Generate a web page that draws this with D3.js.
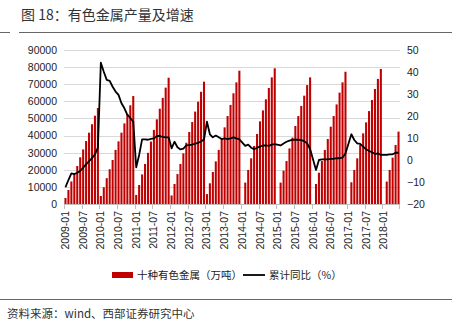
<!DOCTYPE html>
<html><head><meta charset="utf-8">
<script src="https://cdn.jsdelivr.net/npm/d3@7"></script>
<style>
html,body{margin:0;padding:0;background:#fff;}
svg{display:block;}
</style></head>
<body>
<svg id="chart" width="452" height="325"></svg>
<script>
// ---- data ----
const years = [2009,2010,2011,2012,2013,2014,2015,2016,2017,2018];
const monthsPerYear = ["01","02","03","04","05","06","07","08","09","10","11","12"];
const lastMonth = "2018-06";
const production = [
  // 2009
  3500, 8200, 13200, 17200, 22200, 27300, 31900, 36800, 41700, 46600, 51600, 56100,
  // 2010
  4700, 9800, 15100, 20300, 25700, 31600, 36600, 41700, 47100, 52600, 57700, 63100,
  // 2011
  5300, 11100, 17300, 23400, 29900, 36500, 43300, 49500, 55700, 62000, 68000, 73800,
  // 2012
  5000, 11700, 17500, 23400, 29600, 35800, 42100, 47900, 54000, 59800, 65600, 71500,
  // 2013
  5800, 12100, 18700, 24900, 31600, 38000, 44800, 51400, 57900, 64700, 71100, 77900,
  // 2014
  null, 12500, 19900, 26700, 33900, 40900, 48300, 54700, 61200, 67800, 74000, 79300,
  // 2015
  null, 12500, 19500, 25100, 32500, 38800, 45600, 51400, 57300, 63300, 69500, 74000,
  // 2016
  null, 11700, 18300, 25100, 31600, 38000, 45200, 51400, 58200, 65100, 71100, 77300,
  // 2017
  null, 12700, 19900, 26700, 34500, 41300, 47700, 54300, 60800, 67200, 73100, 78900,
  // 2018
  null, 13100, 19900, 27100, 34500, 42300
];
const growth = [
  // 2009
  -12.4, -9.1, -6.1, -6.4, -5.8, -5.0, -3.5, -2.0, -0.5, 0.8, 2.6, 5.6,
  // 2010
  44.2, 40.1, 36.4, 36.0, 33.3, 31.1, 29.6, 25.8, 23.5, 20.5, 19.1, 17.4,
  // 2011
  -3.3, 2.3, 9.4, 9.4, 9.2, 9.6, 9.8, 10.9, 10.9, 10.5, 10.3, 10.3,
  // 2012
  5.3, 8.3, 5.8, 4.8, 5.2, 6.6, 6.8, 7.0, 7.4, 7.8, 8.4, 9.3,
  // 2013
  17.4, 11.7, 10.3, 11.1, 10.3, 9.5, 9.8, 9.5, 9.8, 10.3, 9.8, 9.4,
  // 2014
  null, 6.4, 7.0, 5.6, 4.9, 5.6, 6.1, 6.6, 6.6, 6.4, 7.0, 7.2,
  // 2015
  null, 6.6, 7.5, 8.3, 8.8, 9.2, 9.2, 9.2, 9.0, 8.6, 7.5, 5.0,
  // 2016
  null, -4.5, 0.0, 0.3, 0.3, 0.3, 0.5, 0.5, 0.8, 0.8, 1.1, 3.0,
  // 2017
  null, 11.7, 9.1, 7.6, 7.3, 6.1, 4.9, 4.1, 3.5, 2.7, 3.0, 2.3,
  // 2018
  null, 2.3, 2.6, 2.6, 3.3, 3.3
];
const leftTicks = [0,10000,20000,30000,40000,50000,60000,70000,80000,90000];
const rightTicks = [-20,-10,0,10,20,30,40,50];
const tickLabels = ["2009-01","2009-07","2010-01","2010-07","2011-01","2011-07","2012-01","2012-07",
  "2013-01","2013-07","2014-01","2014-07","2015-01","2015-07","2016-01","2016-07","2017-01","2017-07","2018-01"];
const titleText = "图 18：有色金属产量及增速";
const legendBar = "十种有色金属（万吨）";
const legendLine = "累计同比（%）";
const sourceText = "资料来源：wind、西部证券研究中心";

// categories
const categories = [];
for (const y of years) for (const m of monthsPerYear) {
  const c = y + "-" + m;
  if (c <= lastMonth) categories.push(c);
}
const rows = categories.map((c, i) => ({cat: c, prod: production[i], g: growth[i]}));

// ---- chart ----
const svg = d3.select("#chart");
const W = 452, H = 325;
const plot = {left: 64, right: 400, top: 50, bottom: 204};
const FONT = "'Liberation Sans', Arial, sans-serif";
const CJK = "'Noto Sans CJK SC', 'Noto Sans', sans-serif";

const x = d3.scaleBand().domain(categories).range([plot.left, plot.right]).paddingInner(0.3).paddingOuter(0.15);
const yL = d3.scaleLinear().domain([0, 90000]).range([plot.bottom, plot.top]);
const yR = d3.scaleLinear().domain([-20, 50]).range([plot.bottom, plot.top]);

// title
svg.append("text").attr("x", 21).attr("y", 20).attr("font-family", CJK).attr("font-size", 14)
  .attr("fill", "#333").text(titleText);
svg.append("line").attr("x1", 0).attr("x2", 10).attr("y1", 32.5).attr("y2", 32.5).attr("stroke", "#666").attr("stroke-width", 1);
svg.append("line").attr("x1", 19).attr("x2", W).attr("y1", 32.5).attr("y2", 32.5).attr("stroke", "#666").attr("stroke-width", 1);

// gridlines
svg.append("g").selectAll("line").data(leftTicks.filter(d => d > 0)).join("line")
  .attr("x1", plot.left).attr("x2", plot.right)
  .attr("y1", d => Math.round(yL(d)) + 0.5).attr("y2", d => Math.round(yL(d)) + 0.5)
  .attr("stroke", "#d9d9d9").attr("stroke-width", 1);

// left axis
const gL = svg.append("g").attr("transform", `translate(${plot.left - 4},0)`)
  .call(d3.axisLeft(yL).tickValues(leftTicks).tickFormat(d3.format("d")).tickSize(0).tickPadding(3));
gL.select(".domain").remove();
gL.selectAll("text").attr("font-family", FONT).attr("font-size", 10.5).attr("fill", "#222");

// right axis
const gR = svg.append("g").attr("transform", `translate(${plot.right + 4},0)`)
  .call(d3.axisRight(yR).tickValues(rightTicks).tickFormat(d3.format("d")).tickSize(0).tickPadding(3));
gR.select(".domain").remove();
gR.selectAll("text").attr("font-family", FONT).attr("font-size", 10.5).attr("fill", "#222");

// bars
svg.append("g").selectAll("rect").data(rows.filter(d => d.prod != null)).join("rect")
  .attr("x", d => x(d.cat)).attr("width", x.bandwidth())
  .attr("y", d => yL(d.prod)).attr("height", d => yL(0) - yL(d.prod))
  .attr("fill", "#c00000");

// x axis
const step = x.step();
const xAxisG = svg.append("g");
xAxisG.append("line").attr("x1", plot.left).attr("x2", plot.right)
  .attr("y1", plot.bottom + 0.5).attr("y2", plot.bottom + 0.5).attr("stroke", "#bfbfbf");
const tickCats = categories.filter(c => tickLabels.includes(c));
const bandStart = c => x(c) - x.paddingInner() * step / 2;
xAxisG.selectAll("line.tk").data(tickCats).join("line").attr("class", "tk")
  .attr("x1", d => Math.round(bandStart(d)) + 0.5).attr("x2", d => Math.round(bandStart(d)) + 0.5)
  .attr("y1", plot.bottom).attr("y2", plot.bottom + 5).attr("stroke", "#bfbfbf");
xAxisG.append("line").attr("x1", plot.right - 0.5).attr("x2", plot.right - 0.5)
  .attr("y1", plot.bottom).attr("y2", plot.bottom + 5).attr("stroke", "#bfbfbf");
xAxisG.selectAll("text").data(tickCats).join("text")
  .attr("transform", d => `translate(${x(d) + x.bandwidth() / 2 + 3.5},${plot.bottom + 7}) rotate(-90)`)
  .attr("text-anchor", "end").attr("font-family", FONT).attr("font-size", 10.5).attr("fill", "#222")
  .text(d => d);

// line
const lineGen = d3.line().x(d => x(d.cat) + x.bandwidth() / 2).y(d => yR(d.g));
svg.append("path").datum(rows.filter(d => d.g != null)).attr("d", lineGen)
  .attr("fill", "none").attr("stroke", "#000").attr("stroke-width", 1.8).attr("stroke-linejoin", "round");

// legend
const lg = svg.append("g");
lg.append("rect").attr("x", 112).attr("y", 272).attr("width", 21).attr("height", 6).attr("fill", "#c00000");
lg.append("text").attr("x", 137).attr("y", 279).attr("font-family", CJK).attr("font-size", 10.5).attr("fill", "#222").text(legendBar);
lg.append("line").attr("x1", 243).attr("x2", 265).attr("y1", 275).attr("y2", 275).attr("stroke", "#000").attr("stroke-width", 1.8);
lg.append("text").attr("x", 269).attr("y", 279).attr("font-family", CJK).attr("font-size", 10.5).attr("fill", "#222").text(legendLine);

// footer
svg.append("line").attr("x1", 0).attr("x2", W).attr("y1", 299.5).attr("y2", 299.5).attr("stroke", "#666").attr("stroke-width", 1);
svg.append("text").attr("x", 7).attr("y", 318).attr("font-family", CJK).attr("font-size", 11.5).attr("fill", "#333").text(sourceText);
</script>
</body></html>
